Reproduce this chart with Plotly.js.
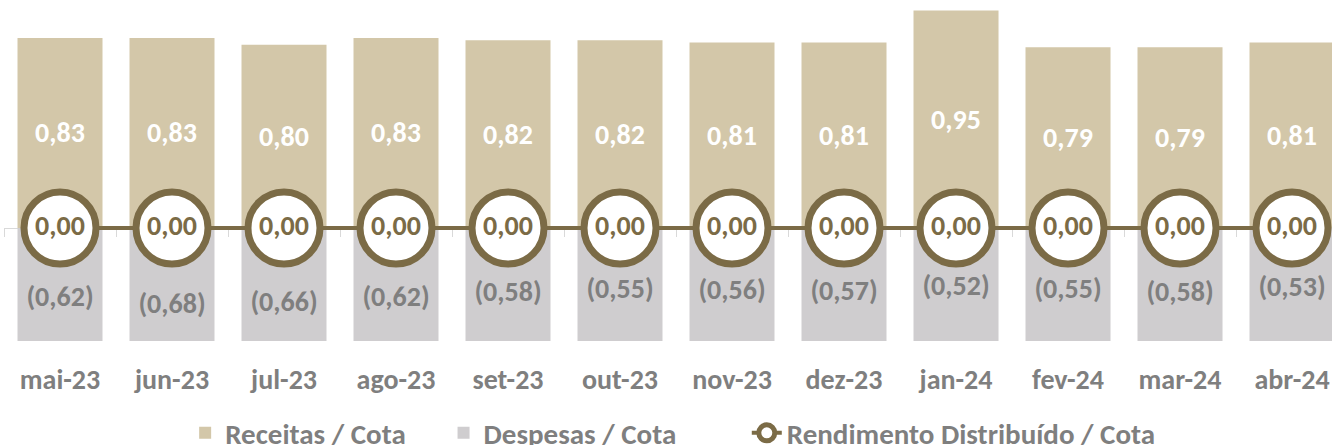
<!DOCTYPE html>
<html>
<head>
<meta charset="utf-8">
<script src="https://cdn.plot.ly/plotly-3.0.1.min.js"></script>
<style>
html,body{margin:0;padding:0;overflow:hidden;background:#fff;}
#chart{width:1332px;height:445px;}
</style>
</head>
<body>
<div id="chart"></div>
<script>
const categories = ['mai-23','jun-23','jul-23','ago-23','set-23','out-23','nov-23','dez-23','jan-24','fev-24','mar-24','abr-24'];
const receitas = [0.83,0.83,0.80,0.83,0.82,0.82,0.81,0.81,0.95,0.79,0.79,0.81];
const despesas = [-0.62,-0.68,-0.66,-0.62,-0.58,-0.55,-0.56,-0.57,-0.52,-0.55,-0.58,-0.53];
const rendimento = [0,0,0,0,0,0,0,0,0,0,0,0];
const seriesNames = ['Receitas / Cota', 'Despesas / Cota', 'Rendimento Distribuído / Cota'];

const FONT = 'Carlito, Calibri, Lato, sans-serif';
const BROWN = '#7B6B46';
const GREYTXT = '#7F7F7F';
const PAD1 = '\u00a0'.repeat(5);
const PAD2 = '\u00a0'.repeat(10);

const fmt = v => Math.abs(v).toFixed(2).replace('.', ',');
const yMin = -0.4934, yMax = 0.974;
const xRange = [-0.5, 11.357];

const traces = [
  {
    type: 'bar', name: seriesNames[0] + PAD1, x: categories, y: receitas,
    marker: {color: '#D3C7A9'},
    text: receitas.map(fmt), textposition: 'inside', insidetextanchor: 'middle',
    textangle: 0, constraintext: 'none',
    textfont: {family: FONT, size: 28, color: '#FFFFFF', weight: 'bold'},
    hoverinfo: 'skip'
  },
  {
    type: 'bar', name: seriesNames[1] + PAD2, x: categories, y: despesas,
    marker: {color: '#CFCDCF'},
    textposition: 'none', hoverinfo: 'skip'
  },
  {
    type: 'scatter', mode: 'text', x: categories, y: despesas.map(v => v / 2),
    text: despesas.map(v => '(' + fmt(v) + ')'),
    textposition: 'middle center', cliponaxis: false, showlegend: false,
    textfont: {family: FONT, size: 28, color: GREYTXT, weight: 'bold'},
    hoverinfo: 'skip'
  },
  {
    type: 'scatter', mode: 'lines+markers+text', name: seriesNames[2],
    x: categories, y: rendimento, xaxis: 'x2', yaxis: 'y',
    line: {color: BROWN, width: 4},
    marker: {symbol: 'circle', size: 72, color: '#FFFFFF', line: {color: BROWN, width: 7}},
    text: rendimento.map(fmt), textposition: 'middle center', cliponaxis: false,
    textfont: {family: FONT, size: 28, color: BROWN, weight: 'bold'},
    hoverinfo: 'skip'
  }
];

const zeroPos = (0 - yMin) / (yMax - yMin);

const layout = {
  width: 1332, height: 445,
  margin: {l: 4, r: 0, t: 5, b: 104},
  paper_bgcolor: '#FFFFFF', plot_bgcolor: '#FFFFFF',
  barmode: 'relative', bargap: 0.241,
  separators: ',.',
  showlegend: true,
  legend: {
    orientation: 'h', xref: 'container', yref: 'container',
    x: 0.139, xanchor: 'left', y: 0.027, yanchor: 'middle',
    font: {family: FONT, size: 29, color: GREYTXT, weight: 'bold'},
    traceorder: 'normal', itemwidth: 30
  },
  xaxis: {
    type: 'category', range: xRange, showgrid: false, zeroline: false,
    showline: false, ticks: 'outside', ticklen: 13, tickcolor: 'rgba(0,0,0,0)',
    tickfont: {family: FONT, size: 28, color: GREYTXT, weight: 'bold'},
    fixedrange: true
  },
  xaxis2: {
    type: 'category', range: xRange, overlaying: 'x', anchor: 'free', position: zeroPos,
    side: 'bottom', showgrid: false, zeroline: false, showline: true, linecolor: '#D9D9D9',
    linewidth: 1, ticks: 'outside', tickson: 'boundaries', ticklen: 8, tickcolor: '#D9D9D9',
    showticklabels: false, layer: 'below traces', fixedrange: true
  },
  yaxis: {
    range: [yMin, yMax], showgrid: false, zeroline: false, showline: false,
    showticklabels: false, ticks: '', fixedrange: true
  }
};

Plotly.newPlot('chart', traces, layout, {displayModeBar: false, staticPlot: true});
</script>
</body>
</html>
